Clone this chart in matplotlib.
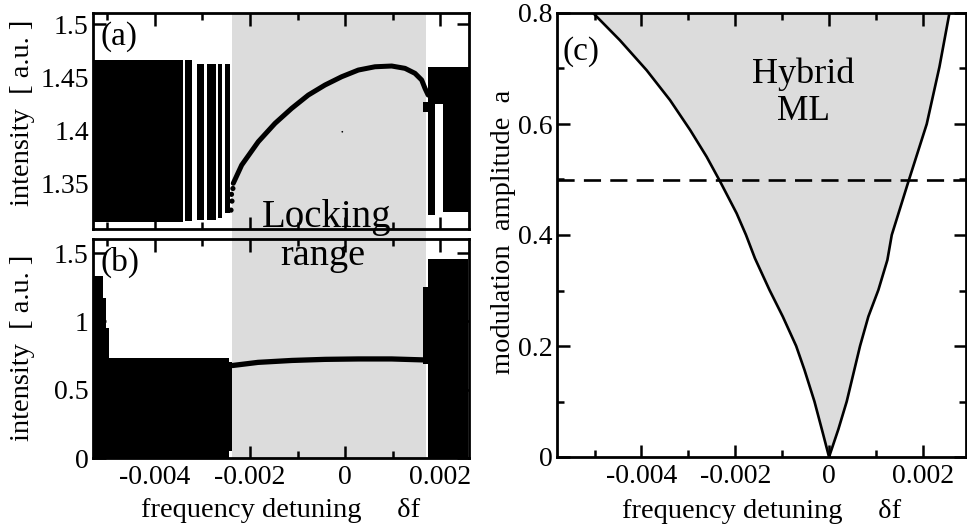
import matplotlib
matplotlib.use('Agg')
import matplotlib.pyplot as plt
from matplotlib.patches import Rectangle
from matplotlib.transforms import blended_transform_factory
from matplotlib.ticker import MultipleLocator

plt.rcParams['font.family'] = ['Liberation Serif', 'DejaVu Serif']
plt.rcParams['axes.unicode_minus'] = False

# ---------------- data ----------------
# locking range (shaded)
lock_lo, lock_hi = -0.00237, 0.00171

# panel (a): unlocked (dense scatter) bands  [x0, x1, ymin, ymax]
a_band_x0 = [-0.00531, -0.003375, -0.003126, -0.002905, -0.002674, -0.002526, 0.00164, 0.001753, 0.001894, 0.002069]
a_band_x1 = [-0.003411, -0.003211, -0.002968, -0.002716, -0.002590, -0.002421, 0.00175, 0.001894, 0.002063, 0.00260]
a_band_lo = [1.3136, 1.3140, 1.3150, 1.3150, 1.3167, 1.3215, 1.4167, 1.3199, 1.4250, 1.3230]
a_band_hi = [1.4660, 1.4660, 1.4623, 1.4623, 1.4623, 1.4623, 1.4267, 1.4597, 1.4597, 1.4597]
# panel (a): locked branch
a_lock_x = [-0.002352, -0.002175, -0.001826, -0.001474, -0.001122, -0.000773, -0.000421,
            -0.000070, 0.000280, 0.000631, 0.000983, 0.001263, 0.001473, 0.001614, 0.001684, 0.00175]
a_lock_y = [1.3498, 1.3670, 1.3890, 1.4063, 1.4205, 1.4330, 1.4425,
            1.4503, 1.4566, 1.4597, 1.4604, 1.4582, 1.4535, 1.4472, 1.4393, 1.4330]
a_dots_x = [-0.00240, -0.00239, -0.00236, -0.00238, -0.000057]
a_dots_y = [1.3245, 1.3394, 1.3449, 1.3330, 1.3984]

# panel (b): unlocked bands
b_band_x0 = [-0.005305, -0.00510, -0.00503, -0.00496, -0.00245, 0.00165, 0.00175]
b_band_x1 = [-0.00510, -0.00503, -0.00496, -0.00245, -0.00237, 0.00175, 0.00258]
b_band_lo = [0.0, 0.0, 0.0, 0.0, 0.05, 0.69, 0.0]
b_band_hi = [1.33, 1.17, 0.95, 0.73, 0.70, 1.25, 1.46]
# panel (b): locked branch
b_lock_x = [-0.00237, -0.00183, -0.00112, -0.00042, 0.00028, 0.00098, 0.00165]
b_lock_y = [0.677, 0.700, 0.714, 0.722, 0.725, 0.725, 0.718]

# panel (c): boundaries of the hybrid mode-locking region
c_left_amp = [0.0, 0.043, 0.1, 0.157, 0.2, 0.253, 0.301, 0.358, 0.4, 0.439,
              0.496, 0.541, 0.589, 0.643, 0.697, 0.751, 0.8]
c_left_df = [0.0, -0.000132, -0.000311, -0.000524, -0.000701, -0.000986, -0.00127, -0.00158,
             -0.00177, -0.00197, -0.00232, -0.00261, -0.00296, -0.00339, -0.00389, -0.00446, -0.00503]
c_right_amp = [0.0, 0.05, 0.1, 0.15, 0.2, 0.253, 0.301, 0.355, 0.4, 0.496, 0.6, 0.703, 0.8]
c_right_df = [0.0, 0.000199, 0.000377, 0.000519, 0.000661, 0.000838, 0.001052, 0.001244,
              0.001337, 0.001691, 0.002083, 0.002354, 0.002567]
c_dash = 0.5

x_ticks = [-0.004, -0.002, 0, 0.002]
x_labels = ['-0.004', '-0.002', '0', '0.002']
a_yticks = [1.35, 1.4, 1.45, 1.5]
a_ylabels = ['1.35', '1.4', '1.45', '1.5']
b_yticks = [0, 0.5, 1, 1.5]
b_ylabels = ['0', '0.5', '1', '1.5']
c_yticks = [0, 0.2, 0.4, 0.6, 0.8]
c_ylabels = ['0', '0.2', '0.4', '0.6', '0.8']

# ---------------- figure ----------------
W, H = 967, 530
fig = plt.figure(figsize=(W / 100, H / 100), dpi=100)


def frac(l, t, r, b):
    return [l / W, 1 - b / H, (r - l) / W, (b - t) / H]


def fx(x):
    return x / W


def fy(y):
    return 1 - y / H


GRAY = '#dcdcdc'
ax_a = fig.add_axes(frac(93, 13, 469, 229))
ax_b = fig.add_axes(frac(93, 239, 469, 458))
ax_c = fig.add_axes(frac(557, 13, 966, 457))

for ax in (ax_a, ax_b, ax_c):
    ax.set_facecolor('none')
    for s in ax.spines.values():
        s.set_linewidth(2.0)
    ax.tick_params(which='both', direction='in', top=True, right=True, width=1.8, labelsize=20)
    ax.tick_params(which='major', length=9)
    ax.tick_params(which='minor', length=5)
    ax.tick_params(axis='y', pad=3)
    ax.tick_params(axis='x', pad=5)

# shaded locking range spanning panels (a) and (b)
trans = blended_transform_factory(ax_a.transData, fig.transFigure)
rect = Rectangle((lock_lo, fy(458)), lock_hi - lock_lo, fy(13) - fy(458),
                 transform=trans, facecolor=GRAY, edgecolor='none', zorder=-1)
fig.add_artist(rect)


def draw_bands(ax, x0s, x1s, los, his):
    ax.bar(x0s, [h - l for l, h in zip(los, his)],
           width=[x1 - x0 for x0, x1 in zip(x0s, x1s)],
           bottom=los, align='edge', color='black', linewidth=0)


# panel (a)
draw_bands(ax_a, a_band_x0, a_band_x1, a_band_lo, a_band_hi)
ax_a.plot(a_lock_x, a_lock_y, color='black', lw=3.6, solid_capstyle='round')
ax_a.scatter(a_dots_x, a_dots_y, s=[14, 14, 14, 14, 1.5], color='black', linewidths=0)
ax_a.set_xlim(-0.005305, 0.00261)
ax_a.set_ylim(1.3067, 1.5104)
ax_a.set_xticks(x_ticks)
ax_a.xaxis.set_minor_locator(MultipleLocator(0.001))
ax_a.set_yticks(a_yticks)
ax_a.set_yticklabels(a_ylabels)
ax_a.tick_params(labelbottom=False)

# panel (b)
draw_bands(ax_b, b_band_x0, b_band_x1, b_band_lo, b_band_hi)
ax_b.plot(b_lock_x, b_lock_y, color='black', lw=3.8, solid_capstyle='round')
ax_b.set_xlim(-0.005305, 0.00261)
ax_b.set_ylim(0, 1.603)
ax_b.set_xticks(x_ticks)
ax_b.set_xticklabels(x_labels)
ax_b.xaxis.set_minor_locator(MultipleLocator(0.001))
ax_b.set_yticks(b_yticks)
ax_b.set_yticklabels(b_ylabels)

# panel (c)
poly_x = c_left_df + c_right_df[::-1]
poly_y = c_left_amp + c_right_amp[::-1]
ax_c.fill(poly_x, poly_y, color=GRAY, linewidth=0)
ax_c.plot(c_left_df, c_left_amp, color='black', lw=1.9)
ax_c.plot(c_right_df, c_right_amp, color='black', lw=1.9)
ax_c.axhline(c_dash, color='black', lw=1.9, dashes=(6.5, 3.5))
ax_c.set_xlim(-0.0058, 0.00292)
ax_c.set_ylim(0, 0.8)
ax_c.set_xticks(x_ticks)
ax_c.set_xticklabels(x_labels)
ax_c.xaxis.set_minor_locator(MultipleLocator(0.001))
ax_c.set_yticks(c_yticks)
ax_c.set_yticklabels(c_ylabels)
ax_c.yaxis.set_minor_locator(MultipleLocator(0.1))

# texts
fig.text(fx(100), fy(45), '(a)', fontsize=24, ha='left', va='baseline')
fig.text(fx(101), fy(271), '(b)', fontsize=24, ha='left', va='baseline')
fig.text(fx(563), fy(60), '(c)', fontsize=24, ha='left', va='baseline')
fig.text(fx(327), fy(227), 'Locking', fontsize=28, ha='center', va='baseline')
fig.text(fx(323), fy(265), 'range', fontsize=27.5, ha='center', va='baseline')
fig.text(fx(803), fy(83), 'Hybrid', fontsize=26, ha='center', va='baseline')
fig.text(fx(803), fy(120), 'ML', fontsize=25.5, ha='center', va='baseline')

fig.text(fx(23), fy(113), 'intensity  [ a.u. ]', fontsize=20.5, rotation=90, ha='center', va='center')
fig.text(fx(23), fy(348), 'intensity  [ a.u. ]', fontsize=20.5, rotation=90, ha='center', va='center')
fig.text(fx(504), fy(232), 'modulation  amplitude  a', fontsize=20.5, rotation=90, ha='center', va='center')
fig.text(fx(281), fy(517), 'frequency detuning     δf', fontsize=20.5, ha='center', va='baseline')
fig.text(fx(762), fy(518), 'frequency detuning     δf', fontsize=20.5, ha='center', va='baseline')

fig.savefig('out.png', dpi=100)
